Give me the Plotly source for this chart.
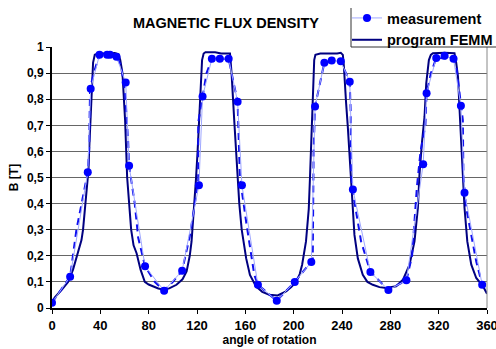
import plotly.graph_objects as go

# ---------------- data ----------------
femm_x = [0, 2.2, 8, 13.3, 17.4, 20.2, 24.4, 25.7, 27.9, 30.2, 30.7, 31.8, 33.1, 34, 35.4, 38, 45, 52, 55,
          56.5, 58.3, 60.5, 62.2, 63.8, 65.5, 67.5, 70, 73.3, 76.8, 80, 83.7, 88, 92.8, 97, 103, 108,
          111.4, 114, 115.5, 117.7, 119.1, 120.5, 121.8, 123.2, 124.2, 125.5, 127, 135, 140, 147.3,
          148.6, 150.8, 153.6, 155, 157, 159, 160.7, 163.8, 168.8, 174, 179.8, 186.8, 193.7, 198, 202,
          205, 207, 210.2, 212.5, 213.5, 214.5, 215.5, 216.3, 217, 218, 222, 230, 236, 239, 240.7,
          241.5, 242, 243.4, 244.8, 246.1, 247.5, 248.9, 250.3, 253.1, 257.2, 261, 265.5, 271, 276.5,
          284.8, 290.4, 295.9, 300, 302.8, 304.1, 306.1, 308.3, 309.7, 311.9, 313.5, 315.2, 325, 333.1,
          334.5, 336, 337.3, 338.7, 340, 341.4, 343.7, 347, 351.1, 356.7, 360]
femm_y = [0.02, 0.04, 0.07, 0.10, 0.147, 0.196, 0.26, 0.30, 0.40, 0.53, 0.60, 0.72, 0.90, 0.94, 0.97, 0.975,
          0.975, 0.977, 0.972, 0.95, 0.90, 0.72, 0.50, 0.40, 0.30, 0.24, 0.21, 0.147, 0.10, 0.09, 0.083,
          0.075, 0.07, 0.075, 0.089, 0.11, 0.14, 0.20, 0.255, 0.38, 0.49, 0.60, 0.72, 0.90, 0.95, 0.975,
          0.98, 0.98, 0.975, 0.975, 0.90, 0.72, 0.50, 0.40, 0.30, 0.24, 0.19, 0.127, 0.083, 0.062, 0.051,
          0.048, 0.064, 0.08, 0.10, 0.13, 0.166, 0.255, 0.38, 0.50, 0.65, 0.78, 0.90, 0.95, 0.97, 0.975,
          0.975, 0.975, 0.978, 0.97, 0.93, 0.874, 0.785, 0.695, 0.593, 0.51, 0.383, 0.28, 0.19, 0.127,
          0.10, 0.089, 0.08, 0.077, 0.083, 0.108, 0.166, 0.255, 0.383, 0.51, 0.63, 0.733, 0.86, 0.95,
          0.97, 0.976, 0.978, 0.976, 0.94, 0.886, 0.76, 0.63, 0.51, 0.383, 0.255, 0.166, 0.115, 0.083,
          0.055]

meas_x = [0, 15, 29.6, 32, 39.3, 45.6, 48, 53.4, 61, 63.8, 77, 92.8, 107.7, 121.6, 124.6, 132.3, 138.9,
          146.2, 153.6, 157.2, 170.4, 186, 200.9, 214.6, 217.7, 225.4, 231.5, 239, 246.4, 249, 263.5,
          278.4, 293.3, 307.2, 310, 318, 324.9, 332.3, 338.4, 341.4, 356]
meas_y = [0.02, 0.12, 0.52, 0.84, 0.97, 0.97, 0.97, 0.963, 0.864, 0.545, 0.16, 0.066, 0.143, 0.47, 0.81,
          0.955, 0.955, 0.955, 0.79, 0.47, 0.089, 0.028, 0.10, 0.176, 0.772, 0.94, 0.948, 0.945, 0.867,
          0.454, 0.138, 0.069, 0.106, 0.551, 0.823, 0.958, 0.966, 0.955, 0.775, 0.442, 0.089]

guide_x = [0, 15, 20.2, 24.4, 29.6, 30.7, 31.5, 34.8, 39.3, 46, 53.4, 57, 60.3, 63, 63.8, 68.5, 71.3, 77,
           85, 92.8, 100, 107.7, 114, 118.2, 121, 121, 124.6, 127.9, 132.3, 146.2, 153.6, 154.5, 155.5,
           161, 167.4, 170.4, 186, 200.9, 214.6, 215.8, 216.5, 217.7, 225.4, 239, 246.4, 247.2, 247.5,
           249.8, 255.8, 261.3, 263.5, 278.4, 293.3, 298, 302, 305, 309, 310, 313.6, 318, 332.3, 334.5,
           338.4, 340, 340.5, 341.4, 342.8, 351.1, 356]
guide_y = [0.02, 0.12, 0.30, 0.40, 0.52, 0.60, 0.84, 0.905, 0.97, 0.975, 0.963, 0.93, 0.835, 0.64, 0.545,
           0.40, 0.27, 0.16, 0.10, 0.066, 0.10, 0.143, 0.274, 0.40, 0.49, 0.71, 0.81, 0.90, 0.955, 0.955,
           0.79, 0.60, 0.50, 0.32, 0.127, 0.089, 0.028, 0.10, 0.176, 0.185, 0.60, 0.772, 0.94, 0.945,
           0.867, 0.75, 0.51, 0.42, 0.255, 0.166, 0.138, 0.069, 0.106, 0.20, 0.465, 0.60, 0.70, 0.823,
           0.90, 0.958, 0.955, 0.93, 0.775, 0.72, 0.50, 0.442, 0.383, 0.178, 0.089]

x_ticks = [0, 40, 80, 120, 160, 200, 240, 280, 320, 360]
x_tick_labels = ["0", "40", "80", "120", "160", "200", "240", "280", "320", "360"]
y_ticks = [0, 0.1, 0.2, 0.3, 0.4, 0.5, 0.6, 0.7, 0.8, 0.9, 1]
y_tick_labels = ["0", "0,1", "0,2", "0,3", "0,4", "0,5", "0,6", "0,7", "0,8", "0,9", "1"]

FONT = "Liberation Sans, Arial, sans-serif"
PL, PR, PT, PB = 52, 487, 47, 308  # plot area in pixels
PW, PH = PR - PL, PB - PT

fig = go.Figure()
fig.add_trace(go.Scatter(x=femm_x, y=femm_y, mode="lines", name="program FEMM",
                         line=dict(color="#000080", width=2), legendrank=2))
fig.add_trace(go.Scatter(x=guide_x, y=guide_y, mode="lines", showlegend=False,
                         line=dict(color="#1010f0", width=2, dash="7px,5px")))
fig.add_trace(go.Scatter(x=meas_x, y=meas_y, mode="lines+markers", name="measurement",
                         line=dict(color="#a0a8ff", width=1),
                         marker=dict(color="#0000ff", size=8), legendrank=1))

fig.update_layout(
    width=496, height=349,
    margin=dict(l=PL, r=496 - PR, t=PT, b=349 - PB, autoexpand=False),
    paper_bgcolor="white", plot_bgcolor="white",
    font=dict(family=FONT, color="black", weight="bold"),
    title=dict(text="MAGNETIC FLUX DENSITY", x=226 / 496, xanchor="center", y=1 - 23 / 349,
               yanchor="middle", font=dict(size=14.5, family=FONT, weight="bold")),
    legend=dict(xref="container", yref="container", x=347 / 496, y=1 - 2 / 349,
                xanchor="left", yanchor="top", bgcolor="rgba(0,0,0,0)",
                font=dict(size=14.5, family=FONT, weight="bold"), tracegroupgap=0,
                itemwidth=30),
    showlegend=True,
    shapes=[
        dict(type="line", xref="paper", yref="paper", x0=1, x1=1, y0=0, y1=1,
             line=dict(color="#888888", width=1)),
        dict(type="line", xref="paper", yref="paper", x0=(351 - PL) / PW, x1=(351 - PL) / PW,
             y0=1, y1=1 + 39 / PH, line=dict(color="#333333", width=1)),
        dict(type="line", xref="paper", yref="paper", x0=(351 - PL) / PW, x1=(496 - PL) / PW,
             y0=1, y1=1, line=dict(color="#333333", width=1)),
    ],
)

fig.update_xaxes(range=[0, 360], tickvals=x_ticks, ticktext=x_tick_labels,
                 showgrid=False, zeroline=False, showline=True, linecolor="black", linewidth=2,
                 ticks="outside", ticklen=4, tickcolor="black", tickwidth=1,
                 ticklabeloverflow="allow",
                 tickfont=dict(size=13, family=FONT, weight="bold"),
                 title=dict(text="angle of rotation", standoff=2,
                            font=dict(size=12, family=FONT, weight="bold")))
fig.update_yaxes(range=[0, 1], tickvals=y_ticks, ticktext=y_tick_labels,
                 showgrid=True, gridcolor="#666666", gridwidth=1, zeroline=False,
                 showline=True, linecolor="black", linewidth=2,
                 ticks="outside", ticklen=4, tickcolor="black", tickwidth=1,
                 tickfont=dict(size=12, family=FONT, weight="bold"),
                 title=dict(text="B [T]", standoff=6,
                            font=dict(size=12, family=FONT, weight="bold")))

fig.write_html("out.html")
